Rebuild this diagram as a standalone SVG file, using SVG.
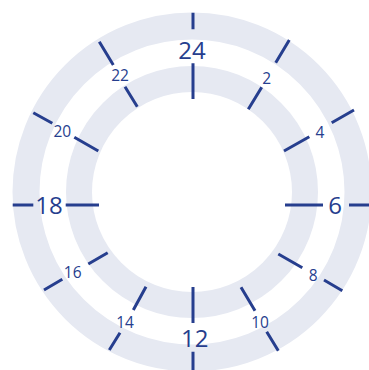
<svg xmlns="http://www.w3.org/2000/svg" width="369" height="370" viewBox="0 0 369 370">
<style>
.ring{fill:none;stroke:#e6e9f2}
.t{stroke:#263e8e;stroke-width:3;fill:none}
.s{font-family:"Open Sans","Liberation Sans",sans-serif;font-size:15.5px;fill:#263e8e;text-anchor:middle}
.b{font-family:"Open Sans","Liberation Sans",sans-serif;font-size:24px;fill:#263e8e;text-anchor:middle}
</style>
<rect width="369" height="370" fill="#ffffff"/>
<g id="rings">
<circle class="ring" cx="192" cy="192" r="166" stroke-width="27"/>
<circle class="ring" cx="192" cy="192" r="113" stroke-width="26"/>
</g>
<g id="h24"><path class="t" d="M193 12.7V29.3M193 63.3V99"/><text class="b" x="192" y="58.5">24</text></g>
<g id="h2"><path class="t" d="M289.3 40L275.7 62.7M261.7 87.3L248.3 109.3"/><text class="s" x="266.7" y="83.9">2</text></g>
<g id="h4"><path class="t" d="M354 110L331.7 122.7M309.3 136.7L284 151"/><text class="s" x="320" y="138.3">4</text></g>
<g id="h6"><path class="t" d="M349 205H369M285 205H323"/><text class="b" x="335" y="213.5">6</text></g>
<g id="h8"><path class="t" d="M278.3 254L302.3 267.7M324 280L342.3 290.7"/><text class="s" x="313.3" y="280.6">8</text></g>
<g id="h10"><path class="t" d="M241 287.3L255 310.7M266.7 331.7L278.3 350.7"/><text class="s" x="260" y="328.3">10</text></g>
<g id="h12"><path class="t" d="M193 287V323M193 351.7V370"/><text class="b" x="194.7" y="346.5">12</text></g>
<g id="h14"><path class="t" d="M146 286.7L133.3 310M120 332.7L109.3 350"/><text class="s" x="125" y="327.9">14</text></g>
<g id="h16"><path class="t" d="M107.7 252.7L88.3 264M62.3 279.3L44 290"/><text class="s" x="72.7" y="277.9">16</text></g>
<g id="h18"><path class="t" d="M12.7 205H33.3M65.7 205H99"/><text class="b" x="49" y="213.5">18</text></g>
<g id="h20"><path class="t" d="M33.3 112.7L52.3 123.3M74.3 137.3L98.3 151"/><text class="s" x="62.3" y="137.3">20</text></g>
<g id="h22"><path class="t" d="M99.3 41.7L113.3 65M125 86.7L137.3 106.7"/><text class="s" x="120" y="81.3">22</text></g>
</svg>
